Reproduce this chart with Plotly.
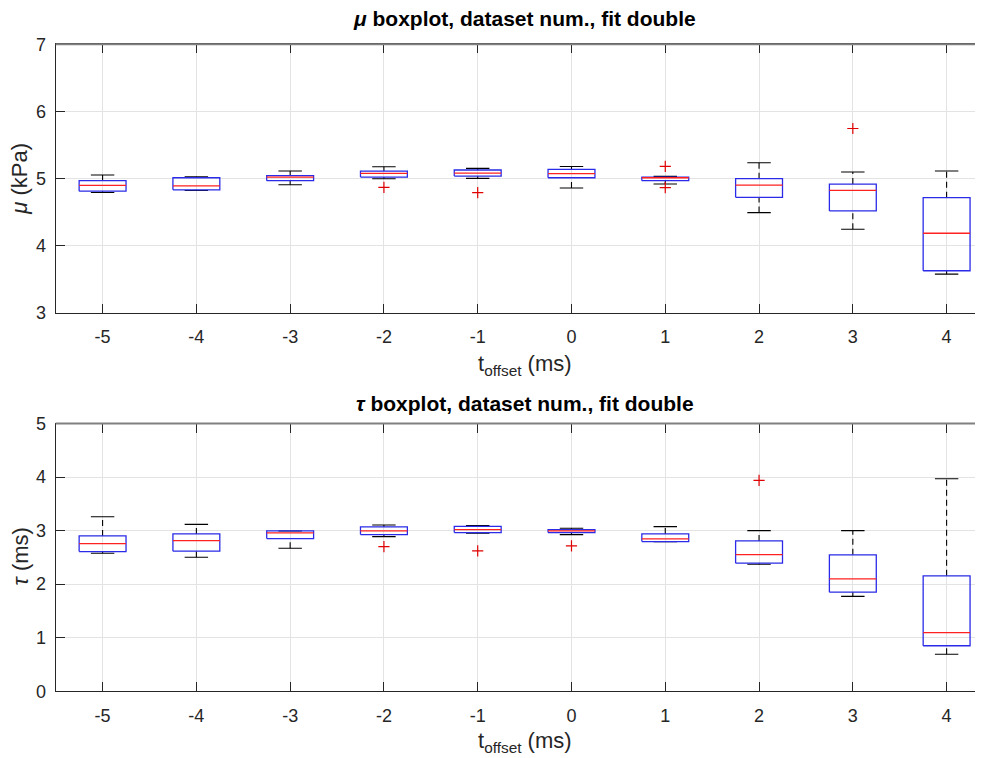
import plotly.graph_objects as go

# ---------------- data ----------------
t_offset = [-5, -4, -3, -2, -1, 0, 1, 2, 3, 4]
tick_labels = ["-5", "-4", "-3", "-2", "-1", "0", "1", "2", "3", "4"]

# mu (kPa)
mu_hi = [5.05, 5.025, 5.11, 5.174, 5.149, 5.178, 5.03, 5.233, 5.095, 5.11]
mu_q3 = [4.966, 5.01, 5.04, 5.11, 5.125, 5.134, 5.02, 4.996, 4.916, 4.713]
mu_med = [4.896, 4.89, 5.02, 5.074, 5.08, 5.07, 5.01, 4.90, 4.822, 4.182]
mu_q1 = [4.81, 4.83, 4.966, 5.02, 5.035, 5.01, 4.966, 4.718, 4.515, 3.623]
mu_lo = [4.79, 4.82, 4.906, 4.995, 5.0, 4.857, 4.916, 4.49, 4.242, 3.573]
mu_out_x = [-2, -1, 1, 1, 3]
mu_out_y = [4.866, 4.787, 5.178, 4.862, 5.744]

# tau (ms)
tau_hi = [3.26, 3.117, 2.994, 3.105, 3.093, 3.043, 3.074, 3.0, 3.0, 3.968]
tau_q3 = [2.90, 2.938, 2.994, 3.068, 3.08, 3.019, 2.938, 2.808, 2.547, 2.156]
tau_med = [2.758, 2.814, 2.957, 2.994, 3.019, 2.994, 2.845, 2.553, 2.10, 1.095]
tau_q1 = [2.609, 2.615, 2.851, 2.925, 2.963, 2.963, 2.795, 2.391, 1.851, 0.85]
tau_lo = [2.578, 2.503, 2.67, 2.888, 2.95, 2.925, 2.795, 2.373, 1.771, 0.69]
tau_out_x = [-2, -1, 0, 2]
tau_out_y = [2.702, 2.62, 2.715, 3.937]

# ---------------- styling ----------------
W, H = 983, 758
BOX_HALF = 0.25
CAP_HALF = 0.125
FONT = "Liberation Sans Narrow, Arial Narrow, Liberation Sans, Arial, sans-serif"
TICK_COLOR = "#262626"


def px(x):
    return x / W


def py(y):
    return 1 - y / H


fig = go.Figure()


def add_panel(xref, yref, hi, q3, med, q1, lo, ox, oy):
    bx, by, mx, my, wx, wy, cx, cy = [], [], [], [], [], [], [], []
    for x, h, a, m, b, l in zip(t_offset, hi, q3, med, q1, lo):
        bx += [x - BOX_HALF, x + BOX_HALF, x + BOX_HALF, x - BOX_HALF, x - BOX_HALF, None]
        by += [b, b, a, a, b, None]
        mx += [x - BOX_HALF, x + BOX_HALF, None]
        my += [m, m, None]
        wx += [x, x, None, x, x, None]
        wy += [a, h, None, l, b, None]
        cx += [x - CAP_HALF, x + CAP_HALF, None, x - CAP_HALF, x + CAP_HALF, None]
        cy += [h, h, None, l, l, None]
    common = dict(xaxis=xref, yaxis=yref, mode="lines", showlegend=False, hoverinfo="skip")
    fig.add_trace(go.Scatter(x=wx, y=wy, line=dict(color="#000000", width=1.1, dash="6px,4px"), **common))
    fig.add_trace(go.Scatter(x=cx, y=cy, line=dict(color="#000000", width=1.1), **common))
    fig.add_trace(go.Scatter(x=bx, y=by, line=dict(color="#2a2ae8", width=1.3), **common))
    fig.add_trace(go.Scatter(x=mx, y=my, line=dict(color="#ff2020", width=1.3), **common))
    fig.add_trace(go.Scatter(x=ox, y=oy, xaxis=xref, yaxis=yref, mode="markers", showlegend=False,
                             marker=dict(symbol="cross-thin", size=8,
                                         line=dict(color="#e00000", width=1.2))))


add_panel("x", "y", mu_hi, mu_q3, mu_med, mu_q1, mu_lo, mu_out_x, mu_out_y)
add_panel("x2", "y2", tau_hi, tau_q3, tau_med, tau_q1, tau_lo, tau_out_x, tau_out_y)

# axes geometry (pixels in figure space)
X_LEFT = 47.7
X_RIGHT_FULL = 985.5          # where x = 4.5 would fall (cropped by the figure edge)
TOP1, BOT1 = 27.0, 302.5
TOP2, BOT2 = 416.5, 691.5
unit = (X_RIGHT_FULL - X_LEFT) / 10.0
x_right_val = 4.5 - (X_RIGHT_FULL - W) / unit

xcommon = dict(range=[-5.5, x_right_val], tickmode="array", tickvals=t_offset, ticktext=tick_labels,
               showgrid=True, gridcolor="#e3e3e3", gridwidth=1, zeroline=False,
               showline=True, linecolor=TICK_COLOR, linewidth=1, mirror="ticks",
               ticks="inside", ticklen=9, tickcolor=TICK_COLOR, tickwidth=1,
               tickfont=dict(family=FONT, size=18, color="#262626"),
               ticklabelstandoff=8, domain=[px(X_LEFT), 1])
ycommon = dict(showgrid=True, gridcolor="#e3e3e3", gridwidth=1, zeroline=False,
               showline=True, linecolor=TICK_COLOR, linewidth=1,
               ticks="inside", ticklen=9, tickcolor=TICK_COLOR, tickwidth=1,
               tickfont=dict(family=FONT, size=18, color="#262626"), ticklabelstandoff=5)

fig.update_layout(
    width=W, height=H, margin=dict(l=0, r=0, t=0, b=0),
    paper_bgcolor="white", plot_bgcolor="white",
    xaxis=dict(anchor="y", **xcommon),
    yaxis=dict(anchor="x", range=[3, 7], tickvals=[3, 4, 5, 6, 7], domain=[py(BOT1), py(TOP1)], **ycommon),
    xaxis2=dict(anchor="y2", **xcommon),
    yaxis2=dict(anchor="x2", range=[0, 5], tickvals=[0, 1, 2, 3, 4, 5], domain=[py(BOT2), py(TOP2)], **ycommon),
)

# gray top borders (MATLAB box)
for top in (TOP1, TOP2):
    fig.add_shape(type="line", xref="paper", yref="paper", x0=px(X_LEFT), x1=1, y0=py(top), y1=py(top),
                  line=dict(color="#808080", width=2), layer="above")

xc = px((X_LEFT + X_RIGHT_FULL) / 2)
ann = []
title_font = dict(family=FONT, size=21, color="#000000")
label_font = dict(family=FONT, size=22, color="#262626")
ann.append(dict(text="<b><i>μ</i> boxplot, dataset num., fit double</b>", x=xc, y=py(1), font=title_font))
ann.append(dict(text="<b><i>τ</i> boxplot, dataset num., fit double</b>", x=xc, y=py(396), font=title_font))
ann.append(dict(text="t<sub>offset</sub> (ms)", x=xc, y=py(356), font=label_font))
ann.append(dict(text="t<sub>offset</sub> (ms)", x=xc, y=py(744), font=label_font))
ann.append(dict(text="<i>μ</i> (kPa)", x=px(12), y=py(165), textangle=-90, font=label_font))
ann.append(dict(text="<i>τ</i> (ms)", x=px(12), y=py(553), textangle=-90, font=label_font))
for a in ann:
    fig.add_annotation(xref="paper", yref="paper", showarrow=False, xanchor="center", yanchor="middle", **a)

fig.write_html("out.html")
